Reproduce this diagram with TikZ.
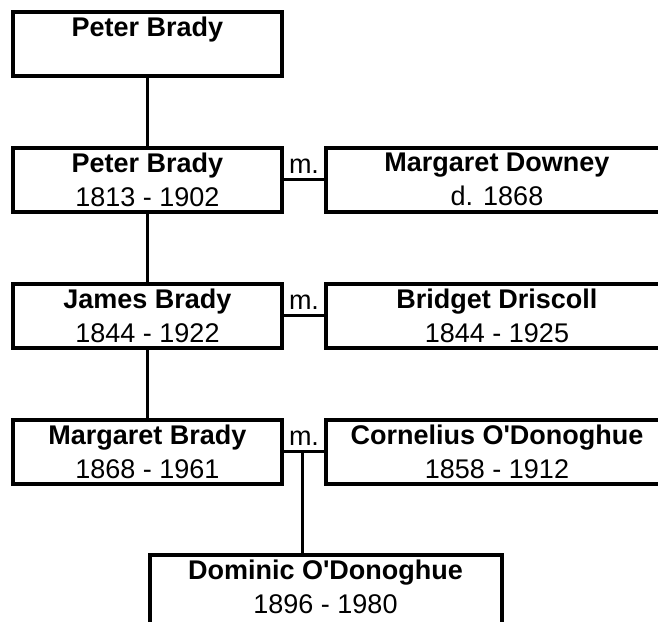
\documentclass[tikz,border=0pt]{standalone}
\usepackage{fontspec}
\setmainfont{Liberation Sans}
\usepackage{tikz}
\usetikzlibrary{positioning}
\newcommand{\pers}[2]{\textbf{#1}\\#2}

\begin{document}
\begin{tikzpicture}[
        personbox/.style={draw, rectangle, line width=4pt, inner sep=2pt,
            align=center, minimum width=269pt, minimum height=64pt,
            font=\fontsize{27}{34}\selectfont},
        spousebox/.style={personbox, minimum width=342pt},
        wedlabel/.style={above, inner sep=5pt, font=\fontsize{27}{34}\selectfont}]

                \def\vgap{68pt}
                \def\hgap{40pt}

                % page frame, the spouse boxes run past its right edge
                \useasboundingbox (0pt,0pt) rectangle (658pt,-621pt);
                \clip (0pt,0pt) rectangle (658pt,-621pt);

                % Scope used for the boxes of the family
                \begin{scope}

                    \node[personbox] (pb1) at (147.5pt,-43.5pt)
                    {\pers{Peter Brady}{\phantom{0}}};
                    \node[personbox] (pb2) [below=\vgap of pb1]
                    {\pers{Peter Brady}{1813 - 1902}};
                    \node[spousebox] (md) [right=\hgap of pb2]
                    {\pers{Margaret Downey}{d. 1868}};
                    \node[personbox] (jb) [below=\vgap of pb2]
                    {\pers{James Brady}{1844 - 1922}};
                    \node[spousebox] (bd) [right=\hgap of jb]
                    {\pers{Bridget Driscoll}{1844 - 1925}};
                    \node[personbox] (mb) [below=\vgap of jb]
                    {\pers{Margaret Brady}{1868 - 1961}};
                    \node[spousebox] (co) [right=\hgap of mb]
                    {\pers{Cornelius O\textquotesingle Donoghue}{1858 - 1912}};
                    \node[personbox, minimum width=352pt, minimum height=88pt] (dod)
                    [below right=67pt and 0pt of mb.south]
                    {\pers{Dominic O\textquotesingle Donoghue}{1896 - 1980\rule[-24pt]{0pt}{24pt}}};
                \end{scope}

                \begin{scope}[line width=3pt]
                    \draw (pb1) -- (pb2);
                    \draw (pb2) -- (jb);
                    \draw (jb) -- (mb);
                    \draw (pb2) -- node[wedlabel] (m1) {m.} (md);
                    \draw (jb) -- node[wedlabel] (m2) {m.} (bd);
                    \draw (mb) -- node[wedlabel] (m3) {m.} coordinate[pos=.45] (wed) (co);
                    \draw (wed) -- (wed |- dod.north);
                \end{scope}

\end{tikzpicture}
\end{document}
